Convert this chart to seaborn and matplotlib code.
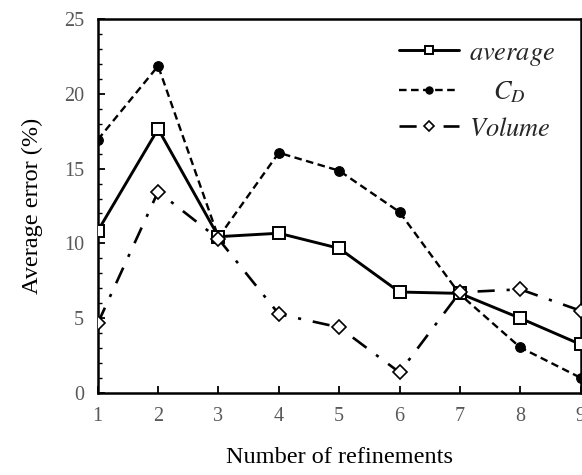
import numpy as np
import pandas as pd
import matplotlib
matplotlib.use("Agg")
import matplotlib.pyplot as plt
import seaborn as sns
from matplotlib.ticker import MultipleLocator

# Error (%) versus number of mesh refinements
refinements = [1, 2, 3, 4, 5, 6, 7, 8, 9]
average_err = [10.83, 17.65, 10.45, 10.68, 9.67, 6.75, 6.66, 5.0, 3.25]
cd_err = [16.93, 21.86, 10.4, 16.06, 14.86, 12.1, 6.6, 3.05, 1.02]
volume_err = [4.66, 13.46, 10.3, 5.28, 4.39, 1.38, 6.73, 6.93, 5.5]

series_labels = [r"$average$", r"$\quad\;C_D$", r"$Volume$"]
x_ticks = [1, 2, 3, 4, 5, 6, 7, 8, 9]
y_ticks = [0, 5, 10, 15, 20, 25]

sns.set_theme(style="white")
plt.rcParams["font.family"] = ["Liberation Serif", "DejaVu Serif"]
plt.rcParams["mathtext.fontset"] = "stix"

df = pd.DataFrame({
    "n": refinements,
    "average": average_err,
    "cd": cd_err,
    "volume": volume_err,
})

fig = plt.figure(figsize=(5.82, 4.75), dpi=100)
ax = fig.add_axes([0.168, 0.1726, 0.8295, 0.7874])

sns.lineplot(data=df, x="n", y="average", ax=ax, color="black", lw=2.1,
             marker="s", markersize=8, markerfacecolor="white",
             markeredgecolor="black", markeredgewidth=1.4,
             label=series_labels[0], zorder=3)
sns.lineplot(data=df, x="n", y="cd", ax=ax, color="black", lw=1.7,
             linestyle=(0, (3.2, 1.9)), marker="o", markersize=7,
             markerfacecolor="black", markeredgecolor="black",
             label=series_labels[1], zorder=2)
sns.lineplot(data=df, x="n", y="volume", ax=ax, color="black", lw=1.9,
             linestyle=(0, (6.5, 4.5, 1.2, 4.5)), marker="D", markersize=7,
             markerfacecolor="white", markeredgecolor="black",
             markeredgewidth=1.2, label=series_labels[2], zorder=4)

ax.set_xlim(1, 9)
ax.set_ylim(0, 25)
ax.set_xticks(x_ticks)
ax.set_yticks(y_ticks)
ax.yaxis.set_minor_locator(MultipleLocator(1))

for side in ["left", "right", "top", "bottom"]:
    ax.spines[side].set_visible(True)
    ax.spines[side].set_color("black")
    ax.spines[side].set_linewidth(1.8)

ax.tick_params(axis="both", which="major", direction="in", length=5,
               width=1.3, color="black", labelsize=14.5, labelcolor="#595959",
               pad=10)
ax.tick_params(axis="y", which="minor", direction="in", length=3,
               width=1.0, color="black", left=True)
ax.tick_params(axis="x", which="both", bottom=True, top=False)
ax.tick_params(axis="y", which="both", left=True, right=False)

ax.set_xlabel("Number of refinements", fontsize=17.5, color="black", labelpad=15)
ax.set_ylabel("Average error (%)", fontsize=17.5, color="black", labelpad=15)
ax.grid(False)

leg = ax.legend(loc="upper right", frameon=False, fontsize=19,
                handlelength=2.3, handletextpad=0.35, labelspacing=0.45,
                markerscale=0.75, borderaxespad=0.3,
                bbox_to_anchor=(0.985, 0.99))

fig.savefig("out.png", dpi=100)
